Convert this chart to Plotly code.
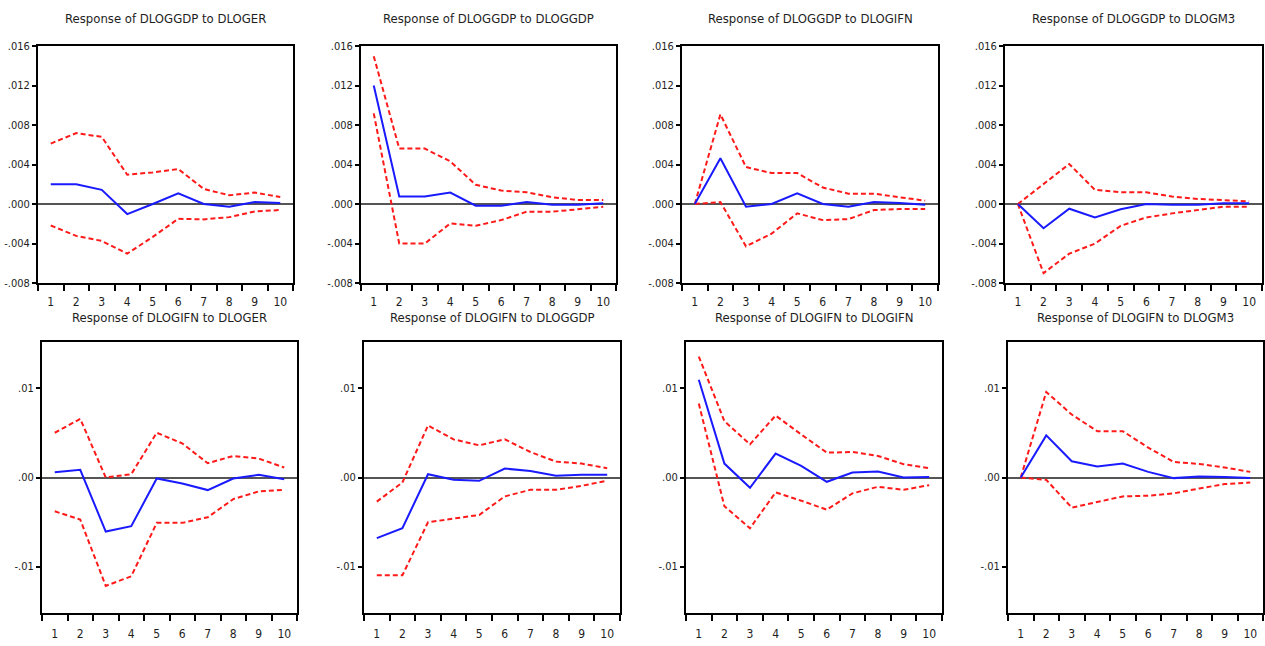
import plotly.graph_objects as go

periods = ["1", "2", "3", "4", "5", "6", "7", "8", "9", "10"]

titles = [
    "Response of DLOGGDP to DLOGER",
    "Response of DLOGGDP to DLOGGDP",
    "Response of DLOGGDP to DLOGIFN",
    "Response of DLOGGDP to DLOGM3",
    "Response of DLOGIFN to DLOGER",
    "Response of DLOGIFN to DLOGGDP",
    "Response of DLOGIFN to DLOGIFN",
    "Response of DLOGIFN to DLOGM3",
]

# Impulse responses (blue solid)
gdp_er = [0.0020, 0.0020, 0.00143, -0.00102, 0.0000, 0.00109, 0.0000, -0.00027, 0.0002, 0.0001]
gdp_gdp = [0.0120, 0.00075, 0.00075, 0.00116, -0.00017, -0.00017, 0.0002, -0.00007, -0.00007, 0.00007]
gdp_ifn = [0.0, 0.00463, -0.00027, 0.0, 0.00109, 0.0, -0.00027, 0.0002, 0.0001, -0.00007]
gdp_m3 = [0.0, -0.00245, -0.00048, -0.00136, -0.00054, 0.0, -0.00007, -0.00007, 0.00007, 0.00007]
ifn_er = [0.00059, 0.00086, -0.00606, -0.00546, -0.00011, -0.00067, -0.00141, -0.00011, 0.0003, -0.00019]
ifn_gdp = [-0.0068, -0.00569, 0.00037, -0.00026, -0.00037, 0.0010, 0.00074, 0.00019, 0.0003, 0.0003]
ifn_ifn = [0.01097, 0.00156, -0.00115, 0.00268, 0.0013, -0.00048, 0.00056, 0.00067, 0.0, 0.00007]
ifn_m3 = [0.0, 0.00472, 0.00182, 0.00123, 0.00156, 0.00063, -0.00007, 0.00011, 0.00007, -0.00007]

# Upper bands (red dashed)
gdp_er_hi = [0.00612, 0.00718, 0.0068, 0.00296, 0.0032, 0.00354, 0.00153, 0.00088, 0.00116, 0.0007]
gdp_gdp_hi = [0.01497, 0.00561, 0.00561, 0.00432, 0.00194, 0.00136, 0.00119, 0.00068, 0.00041, 0.00041]
gdp_ifn_hi = [0.0, 0.00908, 0.00374, 0.00313, 0.00313, 0.00167, 0.00105, 0.00105, 0.00068, 0.00034]
gdp_m3_hi = [0.0, 0.0020, 0.00405, 0.00143, 0.00119, 0.00119, 0.00075, 0.00051, 0.00041, 0.00027]
ifn_er_hi = [0.00502, 0.00658, 0.0, 0.00037, 0.00502, 0.00383, 0.0016, 0.00242, 0.00212, 0.00112]
ifn_gdp_hi = [-0.00271, -0.00056, 0.00584, 0.00428, 0.00361, 0.00428, 0.00286, 0.00178, 0.00156, 0.00104]
ifn_ifn_hi = [0.01357, 0.00632, 0.00372, 0.00695, 0.00483, 0.00279, 0.00286, 0.00242, 0.00149, 0.00104]
ifn_m3_hi = [0.0, 0.00959, 0.00706, 0.0052, 0.0052, 0.00335, 0.00175, 0.00152, 0.00112, 0.00063]

# Lower bands (red dashed)
gdp_er_lo = [-0.00218, -0.00323, -0.00374, -0.00503, -0.00333, -0.0015, -0.00156, -0.00133, -0.00075, -0.00061]
gdp_gdp_lo = [0.00918, -0.00401, -0.00401, -0.00197, -0.00221, -0.00163, -0.00078, -0.00078, -0.00054, -0.00027]
gdp_ifn_lo = [0.0, 0.0002, -0.00429, -0.0030, -0.00095, -0.00163, -0.00153, -0.00061, -0.00051, -0.00051]
gdp_m3_lo = [0.0, -0.0070, -0.00503, -0.00401, -0.00221, -0.00136, -0.00095, -0.00061, -0.00027, -0.00027]
ifn_er_lo = [-0.00379, -0.00472, -0.01216, -0.01108, -0.00509, -0.00509, -0.00446, -0.00242, -0.00156, -0.00138]
ifn_gdp_lo = [-0.01097, -0.01097, -0.00502, -0.00465, -0.0042, -0.00212, -0.00138, -0.00138, -0.00093, -0.00037]
ifn_ifn_lo = [0.00829, -0.00323, -0.00569, -0.00167, -0.0026, -0.00361, -0.00178, -0.00104, -0.00138, -0.00086]
ifn_m3_lo = [0.0, -0.00026, -0.00338, -0.00271, -0.00212, -0.00204, -0.00178, -0.00123, -0.00074, -0.00056]

responses = [gdp_er, gdp_gdp, gdp_ifn, gdp_m3, ifn_er, ifn_gdp, ifn_ifn, ifn_m3]
uppers = [gdp_er_hi, gdp_gdp_hi, gdp_ifn_hi, gdp_m3_hi, ifn_er_hi, ifn_gdp_hi, ifn_ifn_hi, ifn_m3_hi]
lowers = [gdp_er_lo, gdp_gdp_lo, gdp_ifn_lo, gdp_m3_lo, ifn_er_lo, ifn_gdp_lo, ifn_ifn_lo, ifn_m3_lo]

top_ticks = [-0.008, -0.004, 0.0, 0.004, 0.008, 0.012, 0.016]
top_ticktext = ["-.008", "-.004", ".000", ".004", ".008", ".012", ".016"]
bot_ticks = [-0.01, 0.0, 0.01]
bot_ticktext = ["-.01", ".00", ".01"]

W, H = 1265, 646
x_px = [(38, 293), (361, 616), (682, 938), (1005, 1262),
        (42, 297), (364, 620), (686, 942), (1008, 1263)]
y_px_top = (46, 283)
y_px_bot = (342, 613)

FONT = "DejaVu Sans Condensed, Liberation Sans Narrow, Liberation Sans, sans-serif"
TXT = "#1e1e1e"

fig = go.Figure()
annotations = []
for i in range(8):
    k = "" if i == 0 else str(i + 1)
    xa, ya = "x" + k, "y" + k
    fig.add_trace(go.Scatter(x=periods, y=uppers[i], mode="lines", xaxis=xa, yaxis=ya,
                             line=dict(color="#ff1a1a", width=2, dash="5px,3px"),
                             showlegend=False, hoverinfo="skip"))
    fig.add_trace(go.Scatter(x=periods, y=lowers[i], mode="lines", xaxis=xa, yaxis=ya,
                             line=dict(color="#ff1a1a", width=2, dash="5px,3px"),
                             showlegend=False, hoverinfo="skip"))
    fig.add_trace(go.Scatter(x=periods, y=responses[i], mode="lines", xaxis=xa, yaxis=ya,
                             line=dict(color="#1a1aff", width=2),
                             showlegend=False, hoverinfo="skip"))
    x0, x1 = x_px[i]
    yt, yb = y_px_top if i < 4 else y_px_bot
    top = i < 4
    fig.layout["xaxis" + k] = dict(
        domain=[x0 / W, x1 / W], anchor=ya, type="category",
        range=[-0.5, 9.5], tickson="boundaries", ticks="outside", ticklen=6,
        tickwidth=1.5, tickcolor="black", showline=True, linecolor="black",
        linewidth=2, mirror=True, showgrid=False, zeroline=False,
        tickfont=dict(family=FONT, size=12, color=TXT),
        ticklabelstandoff=7 if top else 9, automargin=False,
    )
    fig.layout["yaxis" + k] = dict(
        domain=[1 - yb / H, 1 - yt / H], anchor=xa,
        range=[-0.008, 0.016] if top else [-0.0152, 0.0152],
        tickvals=top_ticks if top else bot_ticks,
        ticktext=top_ticktext if top else bot_ticktext,
        ticks="outside", ticklen=4, tickwidth=1.5, tickcolor="black",
        showline=True, linecolor="black", linewidth=2, mirror=True,
        showgrid=False, zeroline=True, zerolinecolor="#555555", zerolinewidth=1.5,
        tickfont=dict(family=FONT, size=11, color=TXT), automargin=False,
    )
    annotations.append(dict(
        text=titles[i], xref=xa + " domain", yref=ya + " domain", x=0.5, y=1,
        yshift=28 if top else 25, showarrow=False, xanchor="center", yanchor="middle",
        font=dict(family=FONT, size=13, color=TXT),
    ))

fig.update_layout(
    width=W, height=H, margin=dict(l=0, r=0, t=0, b=0, autoexpand=False),
    plot_bgcolor="white", paper_bgcolor="white", annotations=annotations,
    showlegend=False,
)

fig.write_html("out.html", config={"displayModeBar": False},
               post_script="document.body.style.margin='0';")
